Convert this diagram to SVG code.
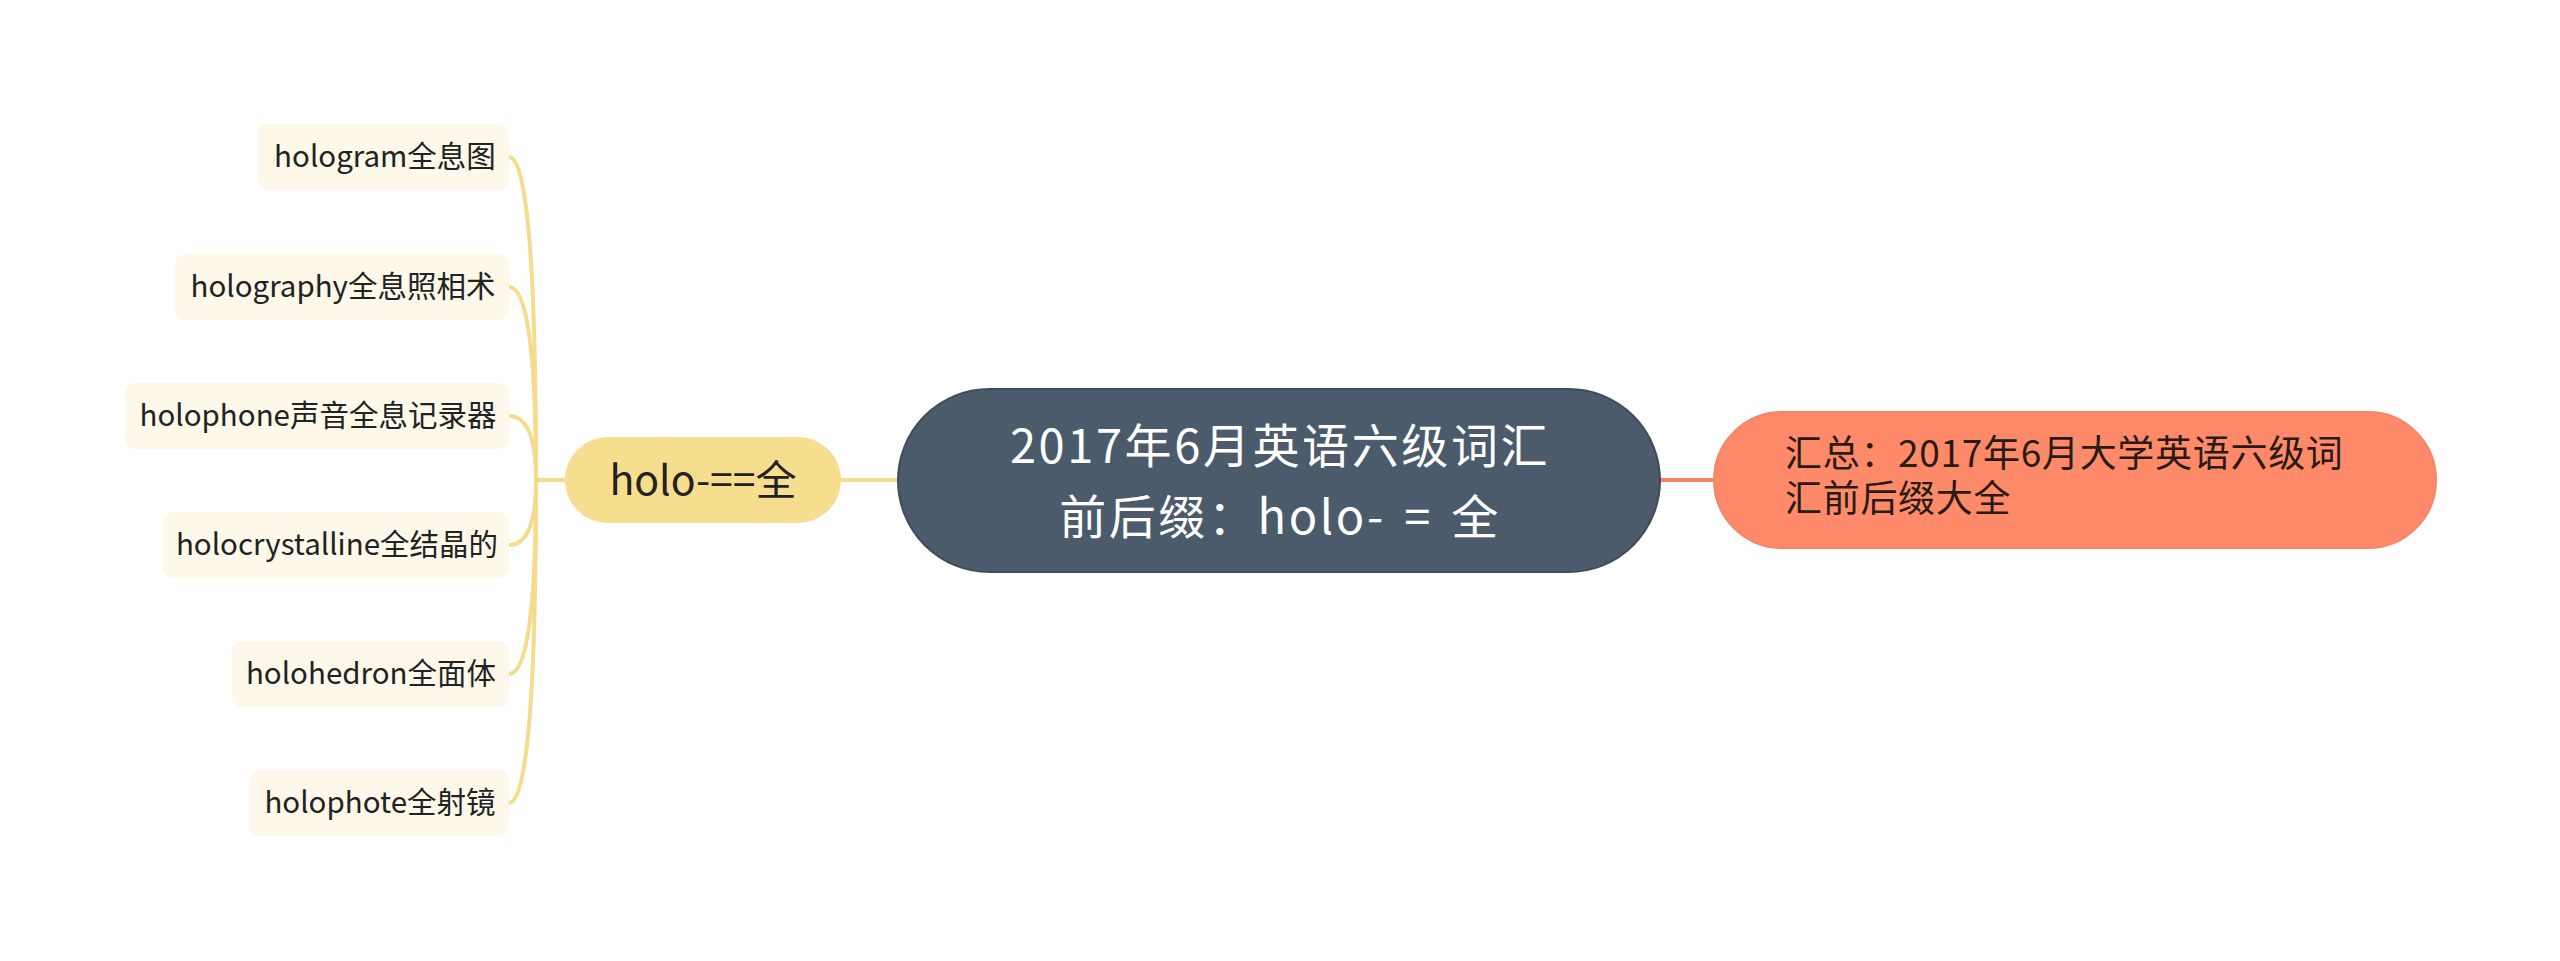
<svg xmlns="http://www.w3.org/2000/svg" width="2560" height="961" viewBox="0 0 2560 961">
<style>
text{font-family:"Noto Sans CJK SC","Noto Sans",sans-serif;}
.leaf rect{fill:#fdf8e9;}
.leaf text{font-size:29.5px;fill:#222;text-anchor:middle;}
.yl{fill:none;stroke:#f5dc8c;stroke-width:4;stroke-linecap:round;}
</style>
<rect width="2560" height="961" fill="#ffffff"/>
<g id="connectors">
<path class="yl" d="M509,157 Q536,157 536,480"/>
<path class="yl" d="M509,287 Q536,287 536,480"/>
<path class="yl" d="M509,416 Q536,416 536,480"/>
<path class="yl" d="M509,545 Q536,545 536,480"/>
<path class="yl" d="M509,674 Q536,674 536,480"/>
<path class="yl" d="M509,803 Q536,803 536,480"/>
<path class="yl" d="M536,480 L566,480"/>
<path class="yl" d="M840,480 L899,480"/>
<path d="M1660,480 L1715,480" fill="none" stroke="#f4876a" stroke-width="4"/>
</g>
<g id="center">
<rect x="898" y="389" width="762" height="183" rx="91.5" fill="#4b5b6b" stroke="#3f4d5a" stroke-width="2"/>
<text font-size="47" letter-spacing="2.6" fill="#ffffff" text-anchor="middle"><tspan x="1280" y="463">2017年6月英语六级词汇</tspan><tspan x="1280" y="534">前后缀：holo-&#8196;=&#8196;全</tspan></text>
</g>
<g id="summary">
<rect x="1714" y="412" width="722" height="136" rx="68" fill="#fe8a6a" stroke="#f4866a" stroke-width="2"/>
<text font-size="37" letter-spacing="0.7" fill="#2a1a14"><tspan x="1785" y="467">汇总：2017年6月大学英语六级词</tspan><tspan x="1785" y="512">汇前后缀大全</tspan></text>
</g>
<g id="holo">
<rect x="565" y="437" width="276" height="86" rx="43" fill="#f7de8f"/>
<text x="703" y="495" font-size="41" fill="#222" text-anchor="middle">holo-==全</text>
</g>
<g id="leaf1" class="leaf">
<rect x="258" y="124" width="251" height="66" rx="10"/>
<text x="385" y="167">hologram全息图</text>
</g>
<g id="leaf2" class="leaf">
<rect x="175" y="254" width="334" height="66" rx="10"/>
<text x="343" y="297">holography全息照相术</text>
</g>
<g id="leaf3" class="leaf">
<rect x="125" y="383" width="384" height="66" rx="10"/>
<text x="318" y="426">holophone声音全息记录器</text>
</g>
<g id="leaf4" class="leaf">
<rect x="163" y="512" width="346" height="66" rx="10"/>
<text x="337" y="555">holocrystalline全结晶的</text>
</g>
<g id="leaf5" class="leaf">
<rect x="232" y="641" width="277" height="66" rx="10"/>
<text x="371" y="684">holohedron全面体</text>
</g>
<g id="leaf6" class="leaf">
<rect x="249" y="770" width="260" height="66" rx="10"/>
<text x="380" y="813">holophote全射镜</text>
</g>
</svg>
